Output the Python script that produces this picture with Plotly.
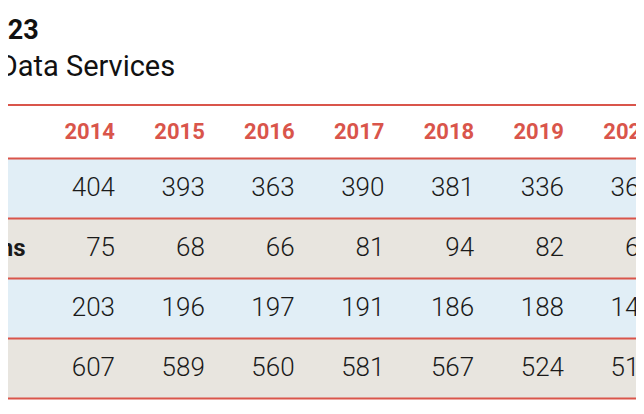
import plotly.graph_objects as go

# ---- data ----
years = ["2014", "2015", "2016", "2017", "2018", "2019", "2020"]
row_labels = ["Men", "Of which veterans", "Women", "Total"]
row_men = [404, 393, 363, 390, 381, 336, 366]
row_veterans = [75, 68, 66, 81, 94, 82, 65]
row_women = [203, 196, 197, 191, 186, 188, 145]
row_total = [607, 589, 560, 581, 567, 524, 511]
title_text = "Staff numbers, 2014–2023"
subtitle_text = "Source: National Data Services"

rows = [row_men, row_veterans, row_women, row_total]
row_fills = ["#e1eef6", "#e8e5df", "#e1eef6", "#e8e5df"]
RED = "#d9554b"

OFF = 8                      # page offset of the plot div
W, H = 644 - OFF, 414 - 2 * OFF
COL_W = 89.8                 # px per column
FIRST_RIGHT = 115 - OFF      # px right edge of first column
HEADER_TOP, HEADER_BOTTOM, ROW_H = 105 - OFF, 158.5 - OFF, 60
LABEL_LEFT_PX = -176

x_lo = -FIRST_RIGHT / COL_W
x_hi = (W - FIRST_RIGHT) / COL_W
col_x = list(range(len(years)))

fig = go.Figure()

# header years
fig.add_trace(go.Scatter(
    x=col_x, y=[(HEADER_TOP + HEADER_BOTTOM) / 2 + 1.5] * len(years),
    mode="text", text=years, textposition="middle left", cliponaxis=True,
    textfont=dict(family="Roboto", size=22, color=RED, weight="bold"),
    hoverinfo="skip", showlegend=False))

# values + row labels
for r, vals in enumerate(rows):
    yc = HEADER_BOTTOM + r * ROW_H + ROW_H / 2 + 1
    fig.add_trace(go.Scatter(
        x=col_x, y=[yc] * len(vals), mode="text", text=[str(v) for v in vals],
        textposition="middle left", cliponaxis=True,
        textfont=dict(family="Roboto", size=26, color="#1a1a1a", weight=300),
        hoverinfo="skip", showlegend=False))
    fig.add_trace(go.Scatter(
        x=[x_lo + LABEL_LEFT_PX / COL_W], y=[yc], mode="text", text=[row_labels[r]],
        textposition="middle right", cliponaxis=True,
        textfont=dict(family="Roboto", size=24, color="#1a1a1a", weight="bold"),
        hoverinfo="skip", showlegend=False))

shapes = []
# row backgrounds
for r, fill in enumerate(row_fills):
    y0 = HEADER_BOTTOM + r * ROW_H
    shapes.append(dict(type="rect", xref="paper", yref="y", x0=0, x1=1,
                       y0=y0, y1=y0 + ROW_H, fillcolor=fill, line_width=0, layer="below"))
# rules
rule_ys = [HEADER_TOP, HEADER_BOTTOM] + [HEADER_BOTTOM + (r + 1) * ROW_H for r in range(len(rows))]
for yy in rule_ys:
    shapes.append(dict(type="line", xref="paper", yref="y", x0=0, x1=1, y0=yy, y1=yy,
                       line=dict(color=RED, width=2.2)))

annotations = [
    dict(x=33 / W, y=30 - OFF, xref="paper", yref="y", text=title_text, showarrow=False,
         xanchor="right", yanchor="middle",
         font=dict(family="Roboto", size=27, color="#111111", weight="bold")),
    dict(x=169 / W, y=66 - OFF, xref="paper", yref="y", text=subtitle_text, showarrow=False,
         xanchor="right", yanchor="middle",
         font=dict(family="Roboto", size=29, color="#111111")),
]

fig.update_layout(
    width=W, height=H, margin=dict(l=0, r=0, t=0, b=0),
    paper_bgcolor="white", plot_bgcolor="white",
    xaxis=dict(range=[x_lo, x_hi], visible=False, fixedrange=True),
    yaxis=dict(range=[H, 0], visible=False, fixedrange=True),
    shapes=shapes, annotations=annotations, showlegend=False,
)
fig.write_html("out.html")
